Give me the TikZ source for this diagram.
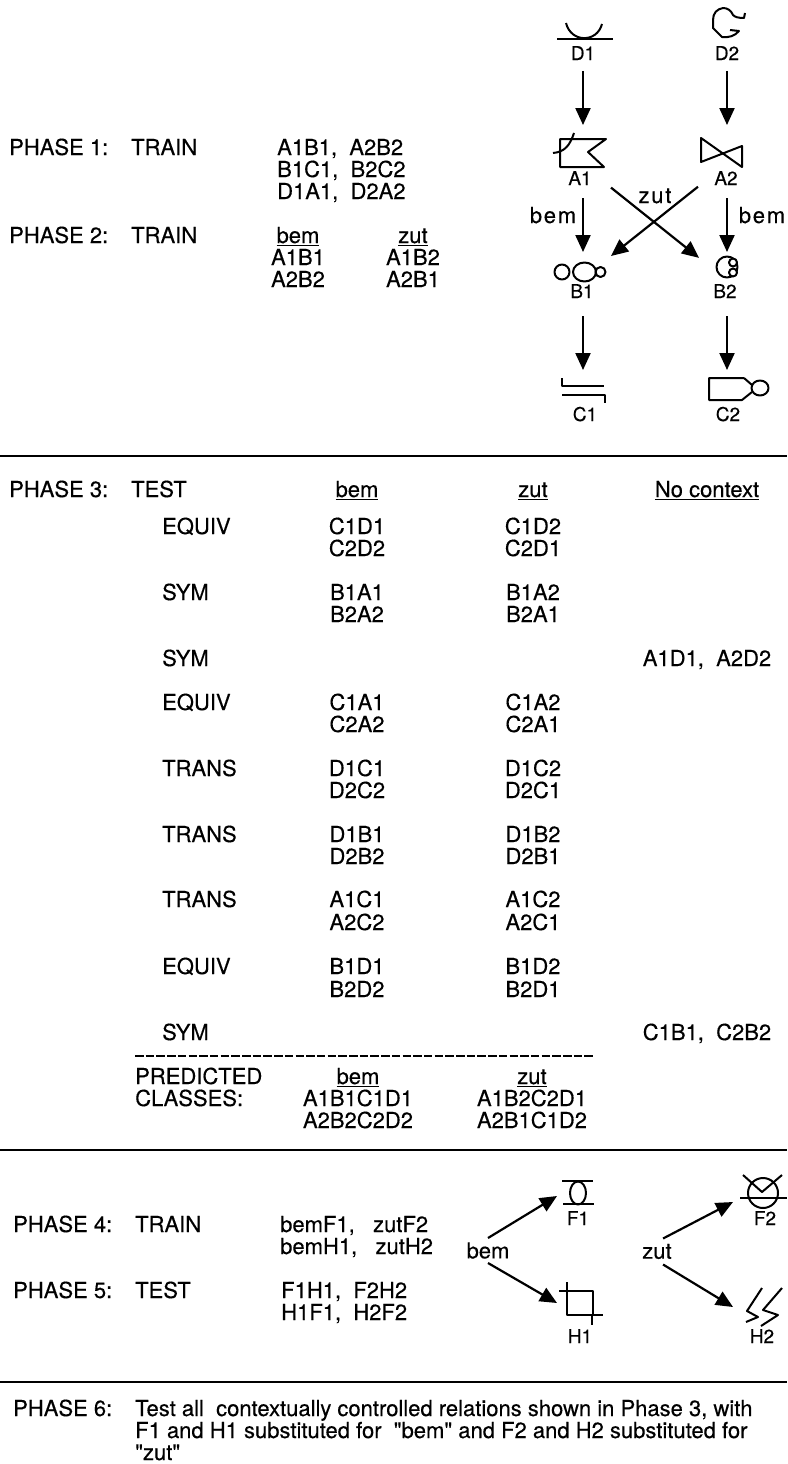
\documentclass[tikz,border=0pt]{standalone}
\usepackage{fontspec}
\setmainfont[Ligatures=TeXOff,FakeBold=0.35]{TeX Gyre Heros}
\usetikzlibrary{arrows.meta}
\tikzset{
  txt/.style={anchor=base west, inner sep=0pt, font=\fontsize{22}{23}\selectfont},
  mid/.style={anchor=base, inner sep=0pt, font=\fontsize{22}{23}\selectfont},
  spaced/.style={anchor=base, inner sep=0pt, font=\fontsize{22}{23}\selectfont\addfontfeature{LetterSpace=8}},
  stimlabel/.style={anchor=base, inner sep=0pt, font=\fontsize{19}{20}\selectfont},
  stimbox/.style={inner sep=0pt, outer sep=0pt},
  link/.style={-{Triangle[length=17pt,width=15pt]}, line width=2.2pt},
  glyph/.style={line width=2pt, line join=round},
  rule/.style={line width=2.2pt}
}
\begin{document}
\begin{tikzpicture}[x=1pt,y=-1pt]
  \useasboundingbox (0,0) rectangle (787,1464);
  % phases 1 and 2
  \node[txt] (p1) at (9,155) {PHASE 1:};
  \node[txt] (p1t) at (131,155) {TRAIN};
  \node[txt] (p1a) at (277,155) {A1B1,\ \ A2B2};
  \node[txt] (p1b) at (277,177) {B1C1,\ \ B2C2};
  \node[txt] (p1c) at (277,199) {D1A1,\ \ D2A2};
  \node[txt] (p2) at (9,243) {PHASE 2:};
  \node[txt] (p2t) at (131,243) {TRAIN};
  \node[mid] (p2bem) at (298,243) {\underline{bem}};
  \node[mid] (p2a) at (298,265) {A1B1};
  \node[mid] (p2b) at (298,287) {A2B2};
  \node[mid] (p2zut) at (413,243) {\underline{zut}};
  \node[mid] (p2c) at (413,265) {A1B2};
  \node[mid] (p2d) at (413,287) {A2B1};
  % boxes round the stimuli, the links end on them
  \node[stimbox, minimum width=54pt, minimum height=20pt] (D1) at (583,61) {};
  \node[stimbox, minimum width=54pt, minimum height=20pt] (D2) at (727,61) {};
  \node[stimbox, minimum width=56pt, minimum height=73pt] (A1) at (583,161.5) {};
  \node[stimbox, minimum width=58pt, minimum height=73pt] (A2) at (727,161.5) {};
  \node[stimbox, minimum width=56pt, minimum height=64pt] (B1) at (583,284) {};
  \node[stimbox, minimum width=56pt, minimum height=64pt] (B2) at (727,284) {};
  \node[stimbox, minimum width=54pt, minimum height=20pt] (C1) at (583,380) {};
  \node[stimbox, minimum width=54pt, minimum height=20pt] (C2) at (727,380) {};
  \node[stimlabel] (D1l) at (583,60) {D1};
  \node[stimlabel] (D2l) at (727,60) {D2};
  \node[stimlabel] (A1l) at (580,185) {A1};
  \node[stimlabel] (A2l) at (726,185) {A2};
  \node[stimlabel] (B1l) at (582,298) {B1};
  \node[stimlabel] (B2l) at (725,298) {B2};
  \node[stimlabel] (C1l) at (585,421) {C1};
  \node[stimlabel] (C2l) at (728,421) {C2};
  \draw[link] (D1.south) -- (A1.north);
  \draw[link] (D2.south) -- (A2.north);
  \draw[link] (A1.south) -- (B1.north);
  \draw[link] (A2.south) -- (B2.north);
  \draw[link] (B1.south) -- (C1.north);
  \draw[link] (B2.south) -- (C2.north);
  \draw[link] (A1.-43.4) -- (B2.137.1);
  \draw[link] (A2.221.3) -- (B1.45);
  \node[spaced] (bemL) at (553,223) {bem};
  \node[spaced] (bemR) at (762,223) {bem};
  \node[spaced] (zutX) at (655,203) {zut};
  % stimulus shapes
  \draw[glyph] (557,39) -- (613,39);
  \draw[glyph] (566,23) .. controls (571,43) and (597,43) .. (602,24);
  \draw[glyph] (745,13) -- (744,18) .. controls (738,18) and (735,17) .. (733,15) .. controls (731,10) and (727,8) .. (723,8) .. controls (717,9) and (713,13) .. (713,20) -- (713,28) -- (722,37) .. controls (728,38) and (735,36) .. (739,31) -- (730,30);
  \draw[glyph] (606,139) -- (560,139) -- (560,167) -- (604,167) -- (588,152) -- cycle;
  \draw[glyph] (574,133) .. controls (570,145) and (565,152) .. (553,153);
  \draw[glyph] (701,138) -- (742,167) -- (742,146) -- (701,162) -- cycle;
  \draw[glyph] (562,272) circle (7.5);
  \draw[glyph] (584.5,272) ellipse (11.5 and 9.5);
  \draw[glyph] (600.5,272) circle (5);
  \draw[glyph] (727,267) circle (10.5);
  \draw[glyph, fill=white] (733,262.5) circle (4);
  \draw[glyph, fill=white] (733,272.5) circle (4);
  \draw[glyph] (562,378) -- (562,386) -- (604,386);
  \draw[glyph] (562,395) -- (605,395) -- (605,403);
  \draw[glyph] (744,378) -- (709,378) -- (709,400) -- (742,400) -- (752,392);
  \draw[glyph] (744,378) -- (752,385);
  \draw[glyph] (760,388) ellipse (8.5 and 7.5);
  \draw[rule] (0,456) -- (787,456);
  % phase 3
  \node[txt] (p3) at (9,497) {PHASE 3:};
  \node[txt] (p3t) at (131,497) {TEST};
  \node[mid] (p3bem) at (357,497) {\underline{bem}};
  \node[mid] (p3zut) at (533,497) {\underline{zut}};
  \node[mid] (p3no) at (707,497) {\underline{No context}};
  \foreach \n/\k/\y/\ya/\a/\b/\c/\d in {
    1/EQUIV/534/556/C1D1/C2D2/C1D2/C2D1,
    2/SYM/600/622/B1A1/B2A2/B1A2/B2A1,
    3/EQUIV/710/732/C1A1/C2A2/C1A2/C2A1,
    4/TRANS/776/798/D1C1/D2C2/D1C2/D2C1,
    5/TRANS/842/864/D1B1/D2B2/D1B2/D2B1,
    6/TRANS/907/930/A1C1/A2C2/A1C2/A2C1,
    7/EQUIV/974/997/B1D1/B2D2/B1D2/B2D1} {
    \node[txt] (k\n) at (162,\y) {\k};
    \node[mid] (a\n) at (357,\y) {\a};
    \node[mid] (b\n) at (357,\ya) {\b};
    \node[mid] (c\n) at (533,\y) {\c};
    \node[mid] (d\n) at (533,\ya) {\d};
  }
  \node[txt] (k8) at (162,666) {SYM};
  \node[mid] (n8) at (707,666) {A1D1,\ \ A2D2};
  \node[txt] (k9) at (162,1040) {SYM};
  \node[mid] (n9) at (707,1040) {C1B1,\ \ C2B2};
  \draw[line width=1.6pt, dash pattern=on 8.5pt off 2.2pt] (135,1056) -- (593,1056);
  \node[txt] (pc1) at (135,1084) {PREDICTED};
  \node[txt] (pc2) at (135,1106) {CLASSES:};
  \node[mid] (pbem) at (358,1084) {\underline{bem}};
  \node[mid] (pb1) at (358,1106) {A1B1C1D1};
  \node[mid] (pb2) at (358,1128) {A2B2C2D2};
  \node[mid] (pzut) at (532,1084) {\underline{zut}};
  \node[mid] (pz1) at (532,1106) {A1B2C2D1};
  \node[mid] (pz2) at (532,1128) {A2B1C1D2};
  \draw[rule] (0,1150) -- (787,1150);
  % phases 4 and 5
  \node[txt] (p4) at (13,1232) {PHASE 4:};
  \node[txt] (p4t) at (135,1232) {TRAIN};
  \node[txt] (p4a) at (280,1232) {bemF1,\ \ \ zutF2};
  \node[txt] (p4b) at (280,1254) {bemH1,\ \ \ zutH2};
  \node[txt] (p5) at (13,1298) {PHASE 5:};
  \node[txt] (p5t) at (135,1298) {TEST};
  \node[txt] (p5a) at (281,1298) {F1H1,\ \ F2H2};
  \node[txt] (p5b) at (281,1320) {H1F1,\ \ H2F2};
  \node[stimbox, minimum height=25pt, font=\fontsize{22}{23}\selectfont] (bem) at (488,1250.5) {bem};
  \node[stimbox, minimum height=26pt, font=\fontsize{22}{23}\selectfont] (zut) at (657,1251.5) {zut};
  \node[stimbox, minimum width=42pt, minimum height=20pt] (F1) at (578,1196) {};
  \node[stimbox, minimum width=46pt, minimum height=20pt] (H1) at (580,1303) {};
  \node[stimbox, minimum width=60pt, minimum height=20pt] (F2) at (763,1202) {};
  \node[stimbox, minimum width=60pt, minimum height=20pt] (H2) at (763,1307) {};
  \node[stimlabel] (F1l) at (578,1225) {F1};
  \node[stimlabel] (F2l) at (765,1225) {F2};
  \node[stimlabel] (H1l) at (580,1343) {H1};
  \node[stimlabel] (H2l) at (762,1343) {H2};
  \draw[link] (bem.north) -- (F1.west);
  \draw[link] (bem.south) -- (H1.west);
  \draw[link] (zut.65) -- (F2.west);
  \draw[link] (zut.-65) -- (H2.west);
  \draw[glyph] (562,1181) -- (593,1181);
  \draw[glyph] (563,1204) -- (594,1204);
  \draw[glyph] (578,1193) ellipse (8 and 11.5);
  \draw[glyph] (763,1193) circle (15);
  \draw[glyph] (740,1198) -- (787,1198);
  \draw[glyph] (743,1175) -- (762,1192) -- (782,1175);
  \draw[glyph] (567,1291) rectangle (593,1315);
  \draw[glyph] (559,1291) -- (567,1291) (567,1282) -- (567,1291);
  \draw[glyph] (593,1315) -- (603,1315) (592,1315) -- (592,1325);
  \draw[glyph] (762,1288) -- (747,1311) -- (758,1317) -- (746,1322);
  \draw[glyph] (782,1288) -- (763,1310) -- (778,1315) -- (761,1326);
  \draw[rule] (0,1382) -- (787,1382);
  % phase 6
  \node[txt] (p6) at (13,1416) {PHASE 6:};
  \node[txt] (p6a) at (135,1416) {Test all\ \ contextually controlled relations shown in Phase 3, with};
  \node[txt] (p6b) at (135,1438) {F1 and H1 substituted for\ \ "bem" and F2 and H2 substituted for};
  \node[txt] (p6c) at (135,1460) {"zut"};
\end{tikzpicture}
\end{document}
